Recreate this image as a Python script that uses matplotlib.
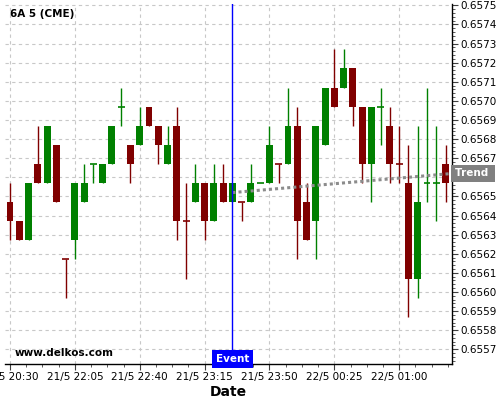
import matplotlib
matplotlib.use("Agg")
import matplotlib.pyplot as plt
from matplotlib.ticker import MultipleLocator, FuncFormatter

# 5 minute bars, 6A (CME)
opens = [0.65647, 0.65637, 0.65627, 0.65667, 0.65657, 0.65677, 0.65617, 0.65627,
         0.65647, 0.65667, 0.65657, 0.65667, 0.65697, 0.65677, 0.65677, 0.65697,
         0.65687, 0.65667, 0.65687, 0.65637, 0.65647, 0.65657, 0.65637, 0.65657,
         0.65647, 0.65647, 0.65647, 0.65657, 0.65657, 0.65667, 0.65667, 0.65687,
         0.65647, 0.65637, 0.65677, 0.65707, 0.65707, 0.65717, 0.65697, 0.65667,
         0.65697, 0.65687, 0.65667, 0.65657, 0.65607, 0.65657, 0.65657, 0.65667]
highs = [0.65657, 0.65637, 0.65657, 0.65687, 0.65687, 0.65677, 0.65617, 0.65657,
         0.65667, 0.65667, 0.65667, 0.65687, 0.65707, 0.65677, 0.65697, 0.65697,
         0.65687, 0.65687, 0.65697, 0.65657, 0.65667, 0.65657, 0.65667, 0.65667,
         0.65657, 0.65647, 0.65667, 0.65657, 0.65687, 0.65667, 0.65707, 0.65697,
         0.65657, 0.65687, 0.65707, 0.65727, 0.65727, 0.65717, 0.65697, 0.65697,
         0.65707, 0.65697, 0.65687, 0.65677, 0.65687, 0.65707, 0.65687, 0.65677]
lows = [0.65627, 0.65627, 0.65627, 0.65657, 0.65657, 0.65647, 0.65597, 0.65617,
        0.65647, 0.65657, 0.65657, 0.65667, 0.65687, 0.65657, 0.65677, 0.65687,
        0.65667, 0.65667, 0.65627, 0.65607, 0.65647, 0.65627, 0.65637, 0.65647,
        0.65647, 0.65637, 0.65647, 0.65657, 0.65657, 0.65657, 0.65667, 0.65617,
        0.65627, 0.65617, 0.65677, 0.65697, 0.65707, 0.65687, 0.65657, 0.65647,
        0.65677, 0.65657, 0.65657, 0.65587, 0.65597, 0.65647, 0.65637, 0.65647]
closes = [0.65637, 0.65627, 0.65657, 0.65657, 0.65687, 0.65647, 0.65617, 0.65657,
          0.65657, 0.65667, 0.65667, 0.65687, 0.65697, 0.65667, 0.65687, 0.65687,
          0.65677, 0.65677, 0.65637, 0.65637, 0.65657, 0.65637, 0.65657, 0.65647,
          0.65657, 0.65647, 0.65657, 0.65657, 0.65677, 0.65667, 0.65687, 0.65637,
          0.65627, 0.65687, 0.65707, 0.65697, 0.65717, 0.65697, 0.65667, 0.65697,
          0.65697, 0.65667, 0.65667, 0.65607, 0.65647, 0.65657, 0.65657, 0.65657]
# bars where open == close but drawn as up bars
doji_up = [9, 12, 27, 40, 45, 46]

tick_labels = ["21/5 20:30", "21/5 22:05", "21/5 22:40", "21/5 23:15",
               "21/5 23:50", "22/5 00:25", "22/5 01:00"]
event_bar = 24
trend_x = [24, 47.7]
trend_y = [0.65652, 0.65662]

UP = "#008000"
DOWN = "#800000"

fig = plt.figure(figsize=(5, 4), dpi=100)
ax = fig.add_axes([0.01, 0.09, 0.894, 0.90])

w = 0.75
for i in range(len(opens)):
    o, h, l, c = opens[i], highs[i], lows[i], closes[i]
    up = c > o or (c == o and i in doji_up)
    col = UP if up else DOWN
    ax.vlines(i, l, h, color=col, linewidth=1, zorder=3)
    if c == o:
        ax.hlines(o, i - w / 2, i + w / 2, color=col, linewidth=1.2, zorder=3)
    else:
        ax.bar(i, abs(c - o), bottom=min(o, c), width=w, color=col,
               linewidth=0, zorder=3)

# trend line
ax.plot(trend_x, trend_y, color="#8c8c8c", linestyle=(0, (1, 1)),
        linewidth=2.2, zorder=4)

# event marker
ax.axvline(event_bar, color="#0000ff", linewidth=1, zorder=5)

ax.set_xlim(-0.54, 47.7)
ax.set_ylim(0.655623, 0.657507)


def price_fmt(v, pos):
    # the trend label sits on top of this level's tick label
    if abs(v - 0.6566) < 1e-7:
        return ""
    return f"{v:.4f}"


ax.set_xticks(range(0, 7 * len(tick_labels), 7))
ax.set_xticklabels(tick_labels)
ax.xaxis.set_minor_locator(MultipleLocator(1.75))
ax.yaxis.set_major_locator(MultipleLocator(0.0001))
ax.yaxis.set_minor_locator(MultipleLocator(0.00002))
ax.yaxis.set_major_formatter(FuncFormatter(price_fmt))
ax.yaxis.tick_right()

ax.tick_params(axis="both", which="major", labelsize=7.5, length=4,
               width=0.8, color="#404040", pad=2)
ax.tick_params(axis="both", which="minor", length=2, width=0.6, color="#404040")

ax.grid(True, which="major", color="#c8c8c8", linestyle=(0, (3, 3)),
        linewidth=0.8)
ax.set_axisbelow(True)

for s in ["left", "top"]:
    ax.spines[s].set_visible(False)
ax.spines["right"].set_linewidth(1)
ax.spines["bottom"].set_linewidth(1)

ax.set_xlabel("Date", fontsize=10, fontweight="bold", labelpad=2)

ax.text(0.011, 0.973, "6A 5 (CME)", transform=ax.transAxes, fontsize=7.5,
        fontweight="bold", va="center", ha="left")
ax.text(0.022, 0.03, "www.delkos.com", transform=ax.transAxes, fontsize=7.5,
        fontweight="bold", va="center", ha="left")

ax.text(event_bar, 0.655623, "Event", fontsize=7.5, fontweight="bold",
        color="white", ha="center", va="bottom", zorder=6,
        bbox=dict(boxstyle="square,pad=0.35", fc="#0000ff", ec="none"))

ax.text(1.006, trend_y[1], "Trend ", transform=ax.get_yaxis_transform(),
        fontsize=7.5, fontweight="bold", color="white", ha="left",
        va="center", zorder=6,
        bbox=dict(boxstyle="square,pad=0.35", fc="#808080", ec="none"),
        clip_on=False)

fig.savefig("out.png", dpi=100)
